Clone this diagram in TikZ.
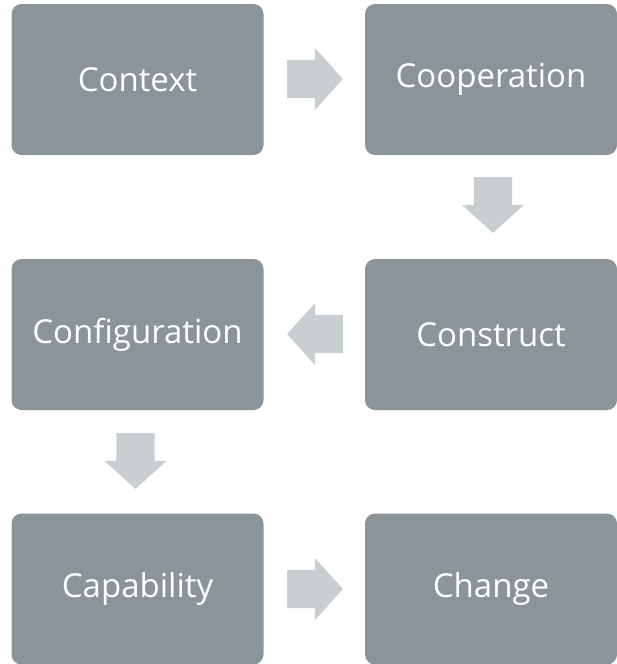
\documentclass[tikz,border=0pt]{standalone}
\usepackage{fontspec}
\setmainfont{Open Sans}
\usetikzlibrary{shapes.arrows}
\definecolor{boxgray}{RGB}{138,148,153}
\definecolor{arrowgray}{RGB}{201,206,209}

\begin{document}
\begin{tikzpicture}[x=1pt,y=-1pt,
	stage/.style={fill=boxgray,rounded corners=10pt,minimum width=252pt,minimum height=151pt,text=white,font=\fontsize{33}{38}\selectfont},
	blockarrow/.style={single arrow,fill=arrowgray,inner sep=19pt,minimum height=54pt,single arrow head extend=12pt,single arrow tip angle=96,anchor=tail}]
			\useasboundingbox (0,0) rectangle (617,664);
			\node[stage] (context) at (137.5,79.5) {Context};
			\node[stage] (cooperation) at (491,79.5) {Cooperation};
			\node[stage] (configuration) at (137.5,334.5) {Configuration};
			\node[stage] (construct) at (491,334.5) {Construct};
			\node[stage] (capability) at (137.5,589) {Capability};
			\node[stage] (change) at (491,589) {Change};
			\node[blockarrow] (ctxtocoop) at (287,79) {};
			\node[blockarrow,shape border rotate=270] (cooptocons) at (493,177) {};
			\node[blockarrow,shape border rotate=180] (constoconf) at (343,334) {};
			\node[blockarrow,shape border rotate=270] (conftocap) at (135.5,433) {};
			\node[blockarrow] (captochange) at (287,589) {};
		\end{tikzpicture}
\end{document}
